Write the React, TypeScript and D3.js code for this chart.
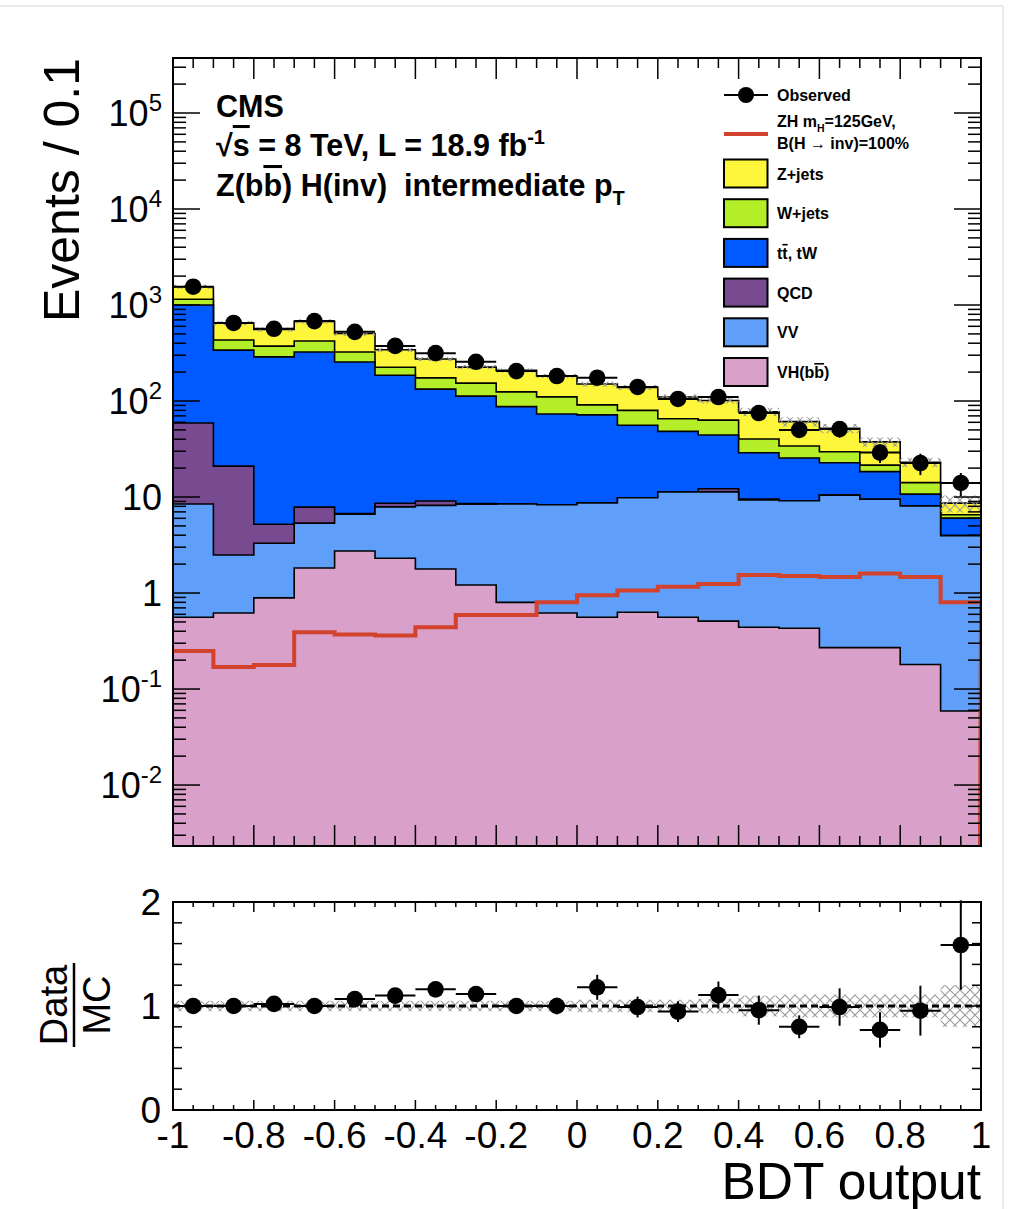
import React from "react";
import * as d3 from "d3";

// ---------- data ----------
const binEdges = [-1, -0.9, -0.8, -0.7, -0.6, -0.5, -0.4, -0.3, -0.2, -0.1, 0, 0.1, 0.2, 0.3, 0.4, 0.5, 0.6, 0.7, 0.8, 0.9, 1];
const vhbb = [0.56, 0.62, 0.89, 1.82, 2.74, 2.3, 1.78, 1.21, 0.8, 0.62, 0.56, 0.63, 0.56, 0.51, 0.44, 0.43, 0.27, 0.27, 0.18, 0.059];
const vv = [7.9, 1.87, 2.41, 3.53, 3.9, 5.6, 6.4, 7.2, 7.65, 7.7, 8.1, 9.2, 10.7, 10.8, 8.9, 8.7, 10.2, 9.2, 7.9, 3.9];
const qcd = [50.5, 18.5, 1.9, 2.5, 0.1, 0.7, 0.9, 0.15, 0, 0, 0, 0, 0, 0.9, 0.2, 0, 0, 0, 0, 0];
const ttbar = [941, 318, 283, 316, 248, 177, 124, 104, 79, 65, 63, 46, 37, 32, 19.4, 16.4, 12.3, 8.9, 2.65, 2.07];
const wjets = [150, 93, 85, 98, 69, 39, 41, 41, 37, 37, 19.5, 24, 17, 19, 11.3, 8.5, 6.8, 3.1, 3.4, 0.5];
const zjets = [400, 218, 182, 253, 181, 117, 100, 72, 84, 72, 59, 59, 45, 38, 37, 27, 22.4, 16.1, 8.9, 2.1];
const signal = [0.249, 0.17, 0.178, 0.39, 0.37, 0.36, 0.44, 0.59, 0.59, 0.8, 0.95, 1.06, 1.16, 1.24, 1.54, 1.5, 1.47, 1.6, 1.47, 0.8];
const observed = [1550, 650, 565, 680, 525, 375, 315, 256, 205, 182, 175, 140, 105, 110, 75, 50, 51, 29, 22.6, 14];
const ratio = [1.0, 1.0, 1.02, 1.0, 1.067, 1.1, 1.16, 1.115, 1.0, 1.0, 1.18, 0.99, 0.946, 1.105, 0.96, 0.8, 0.99, 0.77, 0.955, 1.586];
const ratioErr = [0.03, 0.04, 0.04, 0.04, 0.05, 0.055, 0.06, 0.065, 0.065, 0.08, 0.12, 0.1, 0.1, 0.13, 0.14, 0.11, 0.18, 0.17, 0.24, 0.43];
const mcUnc = [0.05, 0.05, 0.05, 0.05, 0.05, 0.05, 0.05, 0.05, 0.05, 0.05, 0.06, 0.06, 0.06, 0.07, 0.1, 0.11, 0.11, 0.11, 0.11, 0.2];

const xTickValues = [-1, -0.8, -0.6, -0.4, -0.2, 0, 0.2, 0.4, 0.6, 0.8, 1];
const xTickLabels = ["-1", "-0.8", "-0.6", "-0.4", "-0.2", "0", "0.2", "0.4", "0.6", "0.8", "1"];
const yDecades = [-2, -1, 0, 1, 2, 3, 4, 5];
const ratioTickValues = [0, 1, 2];

const processKeys = ["vhbb", "vv", "qcd", "ttbar", "wjets", "zjets"];
const processColors = ["#d9a0c9", "#5f9ffa", "#784b91", "#005aff", "#b4ee28", "#fdf63a"];
const legendProcs = [
  { label: "Z+jets", color: "#fdf63a" },
  { label: "W+jets", color: "#b4ee28" },
  { label: "tt̄, tW", color: "#005aff", bar: true },
  { label: "QCD", color: "#784b91" },
  { label: "VV", color: "#5f9ffa" },
  { label: "VH(bb̄)", color: "#d9a0c9", bar2: true },
];

const FONT = "'Liberation Sans', Arial, Helvetica, sans-serif";
const SIG = "#d3422c";

export default function App() {
  const W = 1017, H = 1209;
  const L = 173, R = 981, T = 58, B = 846;
  const RT = 902, RB = 1110;
  const x = d3.scaleLinear().domain([-1, 1]).range([L, R]);
  const y = d3.scaleLog().domain([0.002317, 3.74e5]).range([B, T]);
  const yr = d3.scaleLinear().domain([0, 2]).range([RB, RT]);

  const rows = binEdges.slice(0, -1).map((_, i) => ({
    vhbb: vhbb[i], vv: vv[i], qcd: qcd[i], ttbar: ttbar[i], wjets: wjets[i], zjets: zjets[i],
  }));
  const series = d3.stack().keys(processKeys)(rows as any);
  const totals = rows.map((_, i) => series[series.length - 1][i][1]);

  const line = d3.line<[number, number]>().x(d => d[0]).y(d => d[1]);
  const stepPts = (vals: number[], close: boolean) => {
    const pts: [number, number][] = [];
    if (close) pts.push([x(binEdges[0]), B + 5]);
    vals.forEach((v, i) => {
      const yy = v > 0 ? Math.min(y(v), B + 5) : B + 5;
      pts.push([x(binEdges[i]), yy]);
      pts.push([x(binEdges[i + 1]), yy]);
    });
    if (close) pts.push([x(binEdges[binEdges.length - 1]), B + 5]);
    return pts;
  };

  const centers = binEdges.slice(0, -1).map((e, i) => (e + binEdges[i + 1]) / 2);

  // log ticks
  const majorY: number[] = yDecades.map(d => Math.pow(10, d));
  const minorY: number[] = [];
  for (let d = -3; d <= 5; d++) for (let k = 2; k <= 9; k++) {
    const v = k * Math.pow(10, d);
    if (v > y.domain()[0] && v < y.domain()[1]) minorY.push(v);
  }
  const xMajor = xTickValues;
  const xMinor = d3.range(-1, 1.0001, 0.05).filter(v => Math.abs(Math.round(v * 5) - v * 5) > 1e-6);
  const rMinor = d3.range(0, 2.0001, 0.2).filter(v => Math.abs(Math.round(v) - v) > 1e-6);

  const yLabel = (d: number) => {
    if (d === 0) return <tspan>1</tspan>;
    if (d === 1) return <tspan>10</tspan>;
    return (<><tspan>10</tspan><tspan fontSize={24} dy={-15}>{String(d)}</tspan></>);
  };

  return (
    <svg width={W} height={H} style={{ position: "absolute", left: 0, top: 0, background: "#fff" }} fontFamily={FONT}>
      <defs>
        <clipPath id="mainClip"><rect x={L} y={T} width={R - L} height={B - T} /></clipPath>
        <clipPath id="ratioClip"><rect x={L} y={RT} width={R - L} height={RB - RT} /></clipPath>
        <pattern id="hatch" width={10} height={10} patternUnits="userSpaceOnUse">
          <path d="M0,0 L10,10 M10,0 L0,10" stroke="#9a9a9a" strokeWidth={1.1} />
        </pattern>
      </defs>
      <rect x={0} y={0} width={W} height={H} fill="#fff" />
      <line x1={0} x2={1003} y1={6} y2={6} stroke="#d8d8d8" strokeWidth={1} />
      <line x1={1003} x2={1003} y1={6} y2={H} stroke="#d8d8d8" strokeWidth={1} />

      {/* main panel stack */}
      <g clipPath="url(#mainClip)">
        {series.slice().reverse().map((s, idx) => {
          const k = series.length - 1 - idx;
          return (
            <path key={k} d={line(stepPts(s.map(p => p[1]), true)) || ""}
              fill={processColors[k]} stroke="#000" strokeWidth={1.6} strokeLinejoin="miter" />
          );
        })}
        {totals.map((t, i) => (
          <rect key={i} x={x(binEdges[i])} width={x(binEdges[i + 1]) - x(binEdges[i])}
            y={y(t * (1 + mcUnc[i]))} height={y(t * (1 - mcUnc[i])) - y(t * (1 + mcUnc[i]))}
            fill="url(#hatch)" />
        ))}
        <path d={line([...stepPts(signal, false), [x(1) - 1, B + 5]]) || ""} fill="none" stroke={SIG} strokeWidth={4} />
      </g>

      {/* observed */}
      {observed.map((o, i) => {
        const e = o * ratioErr[i] / ratio[i];
        return (
          <g key={i}>
            <line x1={x(binEdges[i])} x2={x(binEdges[i + 1])} y1={y(o)} y2={y(o)} stroke="#000" strokeWidth={2} />
            <line x1={x(centers[i])} x2={x(centers[i])} y1={y(o + e)} y2={y(Math.max(o - e, 1e-3))} stroke="#000" strokeWidth={2} />
            <circle cx={x(centers[i])} cy={y(o)} r={8.3} fill="#000" />
          </g>
        );
      })}

      {/* main frame and ticks */}
      <rect x={L} y={T} width={R - L} height={B - T} fill="none" stroke="#000" strokeWidth={2} />
      {majorY.map((v, i) => (
        <g key={"my" + i}>
          <line x1={L} x2={L + 27} y1={y(v)} y2={y(v)} stroke="#000" strokeWidth={1.5} />
          <line x1={R} x2={R - 27} y1={y(v)} y2={y(v)} stroke="#000" strokeWidth={1.5} />
        </g>
      ))}
      {minorY.map((v, i) => (
        <g key={"ny" + i}>
          <line x1={L} x2={L + 13} y1={y(v)} y2={y(v)} stroke="#000" strokeWidth={1.5} />
          <line x1={R} x2={R - 13} y1={y(v)} y2={y(v)} stroke="#000" strokeWidth={1.5} />
        </g>
      ))}
      {xMajor.map((v, i) => (
        <g key={"mx" + i}>
          <line x1={x(v)} x2={x(v)} y1={B} y2={B - 21} stroke="#000" strokeWidth={1.5} />
          <line x1={x(v)} x2={x(v)} y1={T} y2={T + 21} stroke="#000" strokeWidth={1.5} />
        </g>
      ))}
      {xMinor.map((v, i) => (
        <g key={"nx" + i}>
          <line x1={x(v)} x2={x(v)} y1={B} y2={B - 10} stroke="#000" strokeWidth={1.5} />
          <line x1={x(v)} x2={x(v)} y1={T} y2={T + 10} stroke="#000" strokeWidth={1.5} />
        </g>
      ))}
      {yDecades.map((d, i) => (
        <text key={"yl" + i} x={162} y={y(Math.pow(10, d)) + 13} fontSize={36} textAnchor="end">{yLabel(d)}</text>
      ))}
      <text transform={`translate(79,${T}) rotate(-90)`} fontSize={50} textAnchor="end">Events / 0.1</text>

      {/* CMS text */}
      <g fontWeight="bold" fontSize={30.5}>
        <text x={216} y={117}>CMS</text>
        <text x={216} y={156}>
          <tspan>√</tspan><tspan style={{ textDecoration: "overline" }}>s</tspan>
          <tspan> = 8 TeV, L = 18.9 fb</tspan><tspan fontSize={20} dy={-12}>-1</tspan>
        </text>
        <text x={216} y={196} xmlSpace="preserve" style={{ whiteSpace: "pre" }}>
          <tspan>Z(b</tspan><tspan style={{ textDecoration: "overline" }}>b</tspan>
          <tspan>{") H(inv)\u00a0\u00a0intermediate p"}</tspan><tspan fontSize={20} dy={9}>T</tspan>
        </text>
      </g>

      {/* legend */}
      <g fontWeight="bold" fontSize={16}>
        <line x1={724} x2={768} y1={95} y2={95} stroke="#000" strokeWidth={2} />
        <circle cx={746} cy={95} r={8} fill="#000" />
        <text x={777} y={101}>Observed</text>
        <line x1={724} x2={768} y1={134} y2={134} stroke={SIG} strokeWidth={4} />
        <text x={777} y={127}>
          <tspan>ZH m</tspan><tspan fontSize={10.5} dy={5}>H</tspan><tspan dy={-5}>=125GeV,</tspan>
        </text>
        <text x={777} y={149}>B(H → inv)=100%</text>
        {legendProcs.map((p, i) => {
          const cy = 173.5 + i * 39.7;
          return (
            <g key={p.label}>
              <rect x={724} y={cy - 14} width={43.5} height={28} fill={p.color} stroke="#000" strokeWidth={2} />
              <text x={777} y={cy + 6}>
                {p.bar ? (<><tspan>t</tspan><tspan style={{ textDecoration: "overline" }}>t</tspan><tspan>, tW</tspan></>)
                  : p.bar2 ? (<><tspan>VH(b</tspan><tspan style={{ textDecoration: "overline" }}>b</tspan><tspan>)</tspan></>)
                    : p.label}
              </text>
            </g>
          );
        })}
      </g>

      {/* ratio panel */}
      <g clipPath="url(#ratioClip)">
        {mcUnc.map((u, i) => (
          <rect key={i} x={x(binEdges[i])} width={x(binEdges[i + 1]) - x(binEdges[i])}
            y={yr(1 + u)} height={yr(1 - u) - yr(1 + u)} fill="url(#hatch)" />
        ))}
        <line x1={L} x2={R} y1={yr(1)} y2={yr(1)} stroke="#000" strokeWidth={3} strokeDasharray="7 4" />
      </g>
      {ratio.map((r, i) => (
        <g key={"r" + i}>
          <line x1={x(binEdges[i])} x2={x(binEdges[i + 1])} y1={yr(r)} y2={yr(r)} stroke="#000" strokeWidth={2} />
          <line x1={x(centers[i])} x2={x(centers[i])} y1={yr(r + ratioErr[i])} y2={yr(r - ratioErr[i])} stroke="#000" strokeWidth={2} />
          <circle cx={x(centers[i])} cy={yr(r)} r={8.3} fill="#000" />
        </g>
      ))}
      <rect x={L} y={RT} width={R - L} height={RB - RT} fill="none" stroke="#000" strokeWidth={2} />
      {ratioTickValues.map((v, i) => (
        <g key={"rt" + i}>
          <line x1={L} x2={L + 16} y1={yr(v)} y2={yr(v)} stroke="#000" strokeWidth={1.5} />
          <line x1={R} x2={R - 16} y1={yr(v)} y2={yr(v)} stroke="#000" strokeWidth={1.5} />
          <text x={161} y={yr(v) + 13} fontSize={37} textAnchor="end">{String(v)}</text>
        </g>
      ))}
      {rMinor.map((v, i) => (
        <g key={"rn" + i}>
          <line x1={L} x2={L + 9} y1={yr(v)} y2={yr(v)} stroke="#000" strokeWidth={1.5} />
          <line x1={R} x2={R - 9} y1={yr(v)} y2={yr(v)} stroke="#000" strokeWidth={1.5} />
        </g>
      ))}
      {xMajor.map((v, i) => (
        <g key={"rx" + i}>
          <line x1={x(v)} x2={x(v)} y1={RB} y2={RB - 10} stroke="#000" strokeWidth={1.5} />
          <line x1={x(v)} x2={x(v)} y1={RT} y2={RT + 10} stroke="#000" strokeWidth={1.5} />
          <text x={x(v)} y={1148} fontSize={37} textAnchor="middle">{xTickLabels[i]}</text>
        </g>
      ))}
      {xMinor.map((v, i) => (
        <g key={"rnx" + i}>
          <line x1={x(v)} x2={x(v)} y1={RB} y2={RB - 5} stroke="#000" strokeWidth={1.5} />
          <line x1={x(v)} x2={x(v)} y1={RT} y2={RT + 5} stroke="#000" strokeWidth={1.5} />
        </g>
      ))}
      <text x={R} y={1199} fontSize={51.5} textAnchor="end">BDT output</text>
      <g transform="translate(0,1005)">
        <text transform="translate(67,0) rotate(-90)" fontSize={38} textAnchor="middle">Data</text>
        <line x1={74} x2={74} y1={-42} y2={42} stroke="#000" strokeWidth={2.5} />
        <text transform="translate(110,0) rotate(-90)" fontSize={38} textAnchor="middle">MC</text>
      </g>
    </svg>
  );
}
